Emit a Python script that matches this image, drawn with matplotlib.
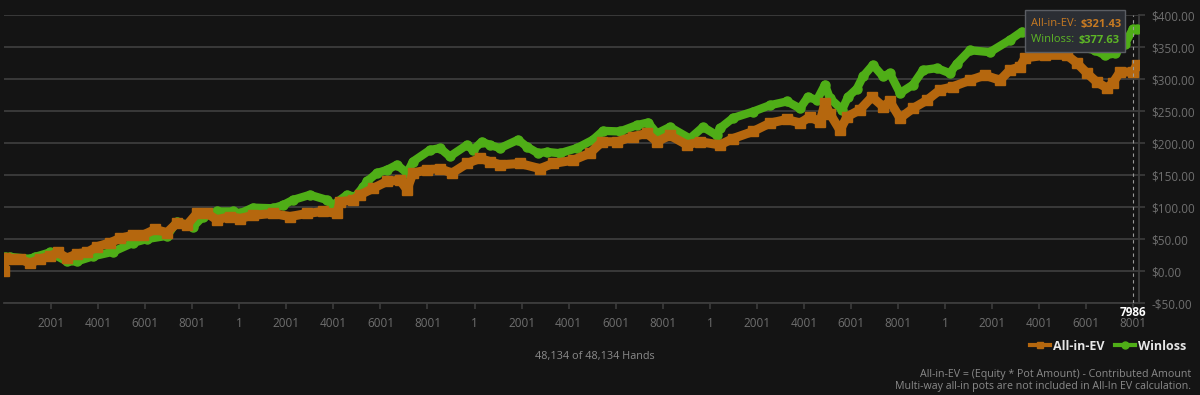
import matplotlib.pyplot as plt
from matplotlib.lines import Line2D
from matplotlib.ticker import FuncFormatter

plt.rcParams['font.family'] = ['Open Sans', 'DejaVu Sans']

# hand index and running result ($)
ev_hands = [0, 40, 250, 680, 1100, 1530, 1950, 2300, 2680, 3100, 3530, 3950, 4500, 4930,
            5480, 5900, 6420, 6930, 7350, 7780, 8200, 8630, 9050, 9600, 10030, 10580,
            11430, 12150, 12880, 13560, 14150, 14280, 14830, 15130, 15680, 16280, 16830,
            17130, 17380, 17980, 18530, 19040, 19680, 20230, 20650, 21080, 21930, 22780,
            23330, 24180, 24900, 25420, 26050, 26730, 27330, 27750, 28300, 29030, 29580,
            30430, 30980, 31830, 32550, 33280, 33830, 34250, 34680, 34890, 35100, 35530,
            35830, 36380, 36890, 37360, 37650, 38080, 38630, 39230, 39780, 40330, 41050,
            41690, 42330, 42750, 43180, 43390, 44240, 45180, 45600, 46030, 46450, 46880,
            47130, 47430, 47980, 48134]
ev_values = [0, 20, 19, 19, 12, 19, 23, 29, 20, 27, 29, 38, 44, 51,
             56, 56, 65, 60, 75, 72, 90, 90, 80, 85, 82, 87,
             90, 85, 90, 93, 90, 108, 111, 119, 129, 140, 142,
             127, 153, 158, 160, 153, 168, 176, 171, 166, 168, 160,
             168, 173, 184, 202, 202, 210, 215, 202, 212, 197, 202,
             197, 207, 218, 231, 237, 231, 241, 233, 262, 246, 220,
             241, 252, 272, 257, 265, 239, 254, 267, 283, 288, 298,
             306, 298, 314, 319, 333, 337, 337, 325, 309, 295, 286,
             294, 311, 311, 321.43]

wl_hands = [0, 40, 250, 1100, 1320, 1950, 2680, 3100, 3780, 4630, 5480, 6080, 6930, 7350,
            8030, 8460, 9050, 9730, 10030, 10580, 11430, 11860, 12280, 13000, 13730,
            13980, 14580, 14920, 15260, 15430, 15850, 16280, 16700, 17130, 17380, 18100,
            18530, 18950, 19680, 19930, 20310, 20650, 21080, 21850, 22230, 22700, 23080,
            23630, 24350, 25030, 25460, 26180, 26900, 27370, 27750, 28300, 29150, 29710,
            30300, 30430, 30980, 31830, 32550, 33280, 33830, 34170, 34550, 34890, 35100,
            35620, 35870, 36250, 36510, 36930, 37360, 37650, 38080, 38630, 39060, 39650,
            40200, 40500, 41050, 41900, 42750, 43260, 44030, 44880, 45730, 46370, 46790,
            47220, 47640, 47980, 48134]
wl_values = [0, 22, 22, 19, 22, 29, 15, 15, 23, 30, 44, 50, 55, 77,
             69, 85, 93, 93, 90, 99, 98, 103, 111, 119, 111,
             103, 119, 116, 131, 140, 153, 158, 166, 153, 171, 189,
             192, 179, 197, 189, 202, 197, 192, 205, 194, 184, 186,
             184, 192, 205, 219, 218, 228, 232, 215, 225, 207, 225,
             212, 223, 239, 249, 259, 265, 254, 272, 267, 291, 270,
             252, 272, 285, 304, 322, 304, 309, 278, 291, 314, 317,
             309, 324, 345, 342, 361, 374, 365, 355, 350, 345, 337,
             340, 355, 378, 377.63]

x_ticks = list(range(2000, 48001, 2000))
x_labels = [str(h % 10000 + 1) for h in x_ticks]
y_ticks = list(range(-50, 401, 50))

bg = '#141414'
orange = '#b5670e'
green = '#4fae17'
grey = '#6f6f6f'

fig = plt.figure(figsize=(12, 3.95), dpi=100, facecolor=bg)
ax = fig.add_axes([0.0033, 0.2329, 0.9459, 0.7291], facecolor=bg)

ax.plot(wl_hands, wl_values, color=green, lw=6, marker='o', ms=6.5,
        solid_capstyle='round', zorder=3)
ax.plot(ev_hands, ev_values, color=orange, lw=6.5, marker='s', ms=6.5,
        solid_capstyle='butt', zorder=4)

ax.set_xlim(0, 48240)
ax.set_ylim(-50, 400)
ax.set_yticks(y_ticks)
ax.yaxis.set_major_formatter(FuncFormatter(
    lambda v, p: ('-$%.2f' % -v) if v < 0 else '$%.2f' % v))
ax.yaxis.tick_right()
ax.set_xticks(x_ticks)
ax.set_xticklabels(x_labels)
ax.grid(axis='y', color='#3c3c3c', lw=1.3)
ax.tick_params(axis='y', colors='#3c3c3c', labelcolor=grey, labelsize=8.5,
               length=4, width=1.2, pad=5)
ax.tick_params(axis='x', colors='#3c3c3c', labelcolor=grey, labelsize=8.5,
               length=4, width=1.2, pad=6)
for s in ['top', 'left']:
    ax.spines[s].set_visible(False)
for s in ['right', 'bottom']:
    ax.spines[s].set_color('#3c3c3c')
    ax.spines[s].set_linewidth(1.3)

# hover cursor
cur = 47986
ax.axvline(cur, color='#9a9a9a', lw=0.8, ls=(0, (3, 3)), zorder=5)
ax.text(cur, -55, '7986', color='white', fontsize=8.5, fontweight='bold',
        ha='center', va='top', zorder=6)

# tooltip box
fig.patches.append(plt.Rectangle((1025 / 1200, 1 - 52 / 395), 100 / 1200, 42 / 395,
                                 transform=fig.transFigure, facecolor='#2b2e34',
                                 edgecolor='#5b5e64', lw=1, zorder=10))
renderer = fig.canvas.get_renderer()
for label, val, col, ypx in [('All-in-EV: ', '$321.43', '#c77a22', 24),
                             ('Winloss: ', '$377.63', '#5db526', 40)]:
    t = fig.text(1031 / 1200, 1 - ypx / 395, label, color=col, fontsize=8,
                 va='center', zorder=11)
    w = t.get_window_extent(renderer).width
    fig.text((1031 + w + 1) / 1200, 1 - ypx / 395, val, color=col, fontsize=8,
             fontweight='bold', va='center', zorder=11)

handles = [Line2D([], [], color=orange, lw=3, marker='s', ms=5),
           Line2D([], [], color=green, lw=3, marker='o', ms=5)]
leg = fig.legend(handles, ['All-in-EV', 'Winloss'], loc='center right',
                 bbox_to_anchor=(1198 / 1200, 1 - 346 / 395), ncol=2, frameon=False,
                 handlelength=1.6, handletextpad=0.3, columnspacing=0.8,
                 prop={'size': 9, 'weight': 'bold'})
for t in leg.get_texts():
    t.set_color('#e6e6e6')

fig.text(595 / 1200, 1 - 356 / 395, '48,134 of 48,134 Hands', color='#8a8a8a',
         fontsize=7.8, ha='center', va='center')
fig.text(1191 / 1200, 1 - 375 / 395, 'All-in-EV = (Equity * Pot Amount) - Contributed Amount',
         color='#8a8a8a', fontsize=7.7, ha='right', va='center')
fig.text(1191 / 1200, 1 - 387 / 395, 'Multi-way all-in pots are not included in All-In EV calculation.',
         color='#8a8a8a', fontsize=7.7, ha='right', va='center')

fig.savefig('out.png', dpi=100, facecolor=bg)
